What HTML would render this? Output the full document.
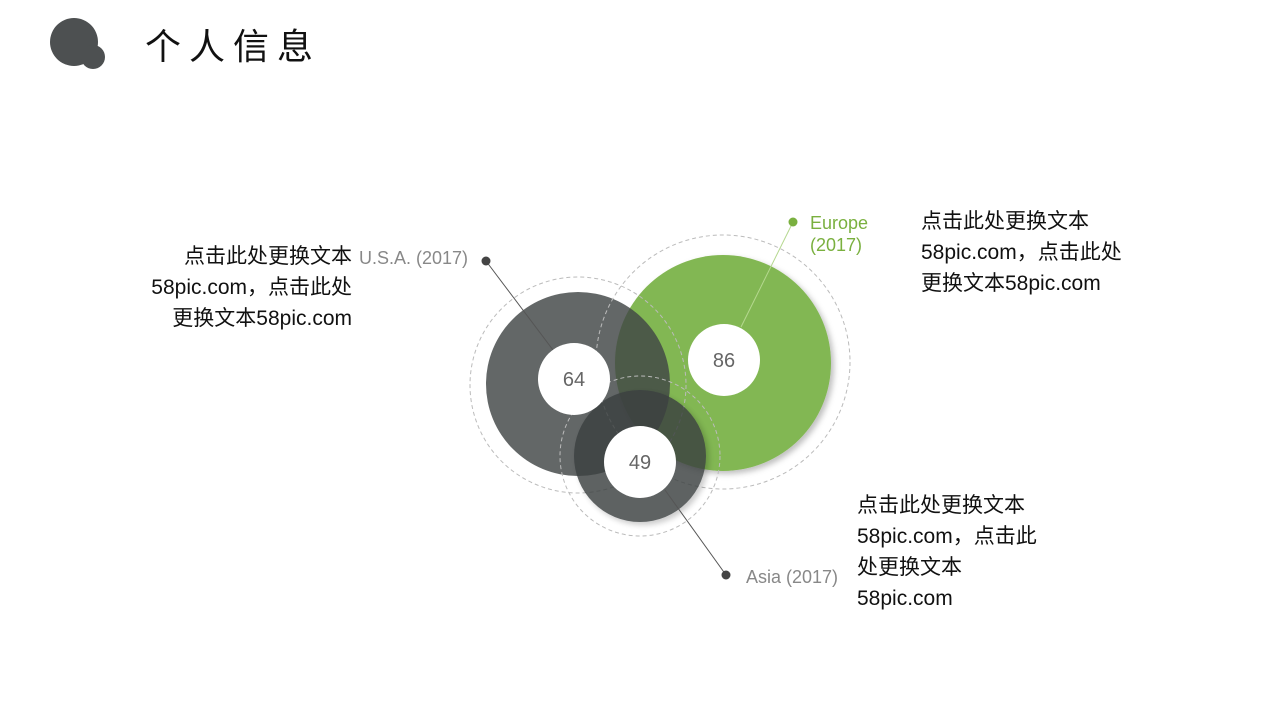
<!DOCTYPE html>
<html><head><meta charset="utf-8"><style>
body{margin:0;width:1280px;height:720px;background:#fff;overflow:hidden;position:relative;font-family:"Liberation Sans","Noto Sans CJK SC",sans-serif}
.t{position:absolute;font-size:20px;color:#111;line-height:31px}
.l{position:absolute;font-size:18px;color:#888;line-height:22px}
</style></head><body>
<svg width="1280" height="720" style="position:absolute;left:0;top:0">
<defs><filter id="s" x="-20%" y="-20%" width="140%" height="140%"><feDropShadow dx="3" dy="3" stdDeviation="3" flood-color="#000" flood-opacity="0.25"/></filter></defs>
<circle cx="74" cy="42" r="24" fill="#4d5051"/><circle cx="93" cy="57" r="12" fill="#4d5051"/>
<circle cx="723" cy="363" r="108" fill="#82b752" filter="url(#s)"/>
<circle cx="578" cy="384" r="92" fill="#414546" opacity="0.82"/>
<circle cx="578" cy="385" r="108" fill="none" stroke="#bbb" stroke-dasharray="4 3"/>
<circle cx="723" cy="362" r="127" fill="none" stroke="#bbb" stroke-dasharray="4 3"/>
<circle cx="640" cy="456" r="80" fill="none" stroke="#bbb" stroke-dasharray="4 3"/>
<circle cx="640" cy="456" r="66" fill="#3a3f41" opacity="0.82" filter="url(#s)"/>
<line x1="486" y1="261" x2="553" y2="350" stroke="#555" stroke-width="1"/>
<line x1="793" y1="222" x2="741" y2="327" stroke="#b5d88f" stroke-width="1"/>
<line x1="726" y1="575" x2="665" y2="490" stroke="#555" stroke-width="1"/>
<circle cx="486" cy="261" r="4.5" fill="#444"/>
<circle cx="793" cy="222" r="4.5" fill="#7ab03f"/>
<circle cx="726" cy="575" r="4.5" fill="#444"/>
<circle cx="574" cy="379" r="36" fill="#fff"/>
<circle cx="724" cy="360" r="36" fill="#fff"/>
<circle cx="640" cy="462" r="36" fill="#fff"/>
<g font-family="Liberation Sans,sans-serif" font-size="20" fill="#666" text-anchor="middle">
<text x="574" y="386">64</text><text x="724" y="367">86</text><text x="640" y="469">49</text></g>
</svg>
<div style="position:absolute;left:145px;top:18px;font-size:36px;letter-spacing:8px;color:#111;font-family:'Noto Sans CJK SC',sans-serif">个人信息</div>
<div class="l" style="left:359px;top:247px">U.S.A. (2017)</div>
<div class="l" style="left:810px;top:212px;color:#7ab03f">Europe<br>(2017)</div>
<div class="l" style="left:746px;top:566px">Asia (2017)</div>
<div class="t" style="left:130px;top:241px;width:222px;text-align:right;font-size:21px">点击此处更换文本<br>58pic.com，点击此处<br>更换文本58pic.com</div>
<div class="t" style="left:921px;top:206px;font-size:21px">点击此处更换文本<br>58pic.com，点击此处<br>更换文本58pic.com</div>
<div class="t" style="left:857px;top:490px;font-size:21px">点击此处更换文本<br>58pic.com，点击此<br>处更换文本<br>58pic.com</div>
</body></html>
